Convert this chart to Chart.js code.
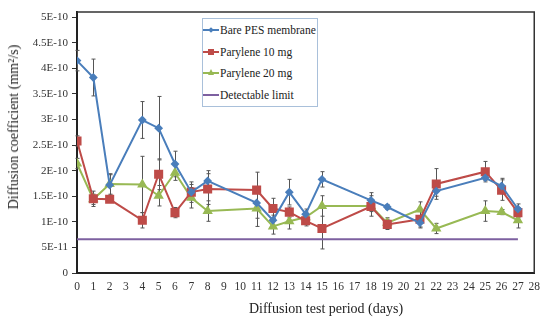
<!DOCTYPE html>
<html>
<head>
<meta charset="utf-8">
<script src="https://cdn.jsdelivr.net/npm/chart.js@4.4.1/dist/chart.umd.min.js"></script>
<style>
  html, body { margin: 0; padding: 0; background: #fff; }
  #wrap { position: relative; width: 547px; height: 318px; font-family: "Liberation Serif", "Times New Roman", serif; color: #222; }
  #legend {
    position: absolute; left: 202px; top: 18px; width: 114px; height: 87px;
    border: 1px solid #a9c0da; background: #fff; font-size: 11.5px;
  }
  .row { position: absolute; left: 0; height: 16px; display: flex; align-items: center; white-space: nowrap; }
  .sw { position: relative; width: 16px; height: 16px; margin-right: 1px; }
  .sw .ln { position: absolute; left: 0; top: 7px; width: 16px; height: 2px; }
  .sw .mk { position: absolute; }
  .title { position: absolute; font-size: 14px; white-space: nowrap; line-height: 16px; }
  #xTitle { left: 326px; top: 301px; transform: translateX(-50%); }
  #yTitle { left: 14px; top: 127px; transform: translate(-50%, -50%) rotate(-90deg); }
</style>
</head>
<body>
<div id="wrap">
  <canvas id="chart" width="547" height="318"></canvas>
  <div id="legend"></div>
  <div class="title" id="xTitle"></div>
  <div class="title" id="yTitle"></div>
</div>
<script>
// valores em unidades de 1E-10 mm2/s
const days = [0, 1, 2, 4, 5, 6, 7, 8, 11, 12, 13, 14, 15, 18, 19, 21, 22, 25, 26, 27];

const barePES    = [4.15, 3.82, 1.72, 2.99, 2.83, 2.13, 1.58, 1.80, 1.37, 1.03, 1.58, 1.15, 1.83, 1.42, 1.29, 0.98, 1.60, 1.86, 1.70, 1.25];
const barePESErr = [0.20, 0.36, 0.20, 0.36, 0.62, 0.25, 0.15, 0.20, 0.30, 0.10, 0.25, 0.10, 0.15, 0.15, 0.05, 0.10, 0.10, 0.05, 0.15, 0.10];

const pary10    = [2.58, 1.45, 1.44, 1.03, 1.93, 1.18, 1.58, 1.64, 1.62, 1.26, 1.19, 1.02, 0.87, 1.30, 0.95, 1.05, 1.74, 1.98, 1.62, 1.18];
const pary10Err = [0.10, 0.15, 0.05, 0.15, 0.30, 0.10, 0.20, 0.30, 0.35, 0.20, 0.10, 0.10, 0.40, 0.10, 0.10, 0.15, 0.30, 0.20, 0.20, 0.10];

const pary20    = [2.14, 1.44, 1.74, 1.73, 1.51, 1.96, 1.47, 1.21, 1.26, 0.91, 1.01, 1.09, 1.31, 1.31, 0.98, 1.24, 0.87, 1.21, 1.19, 1.03];
const pary20Err = [0.10, 0.10, 0.20, 0.55, 0.20, 0.15, 0.20, 0.20, 0.35, 0.15, 0.15, 0.10, 0.20, 0.20, 0.10, 0.15, 0.10, 0.20, 0.05, 0.15];

const limitDays = [0, 27];
const limitValue = 0.66;

const yTickLabels = ['0', '5E-11', '1E-10', '1.5E-10', '2E-10', '2.5E-10', '3E-10', '3.5E-10', '4E-10', '4.5E-10', '5E-10'];
const seriesNames = ['Bare PES membrane', 'Parylene 10 mg', 'Parylene 20 mg', 'Detectable limit'];
const xTitle = 'Diffusion test period (days)';
const yTitle = 'Diffusion coefficient (mm\u00B2/s)';

const FONT = '"Liberation Serif", "Times New Roman", serif';

function pts(xs, ys) {
  return xs.map((d, i) => ({ x: d, y: ys[i] }));
}

// barras de erro desenhadas com as escalas do grafico
const errorBars = {
  id: 'errorBars',
  beforeDatasetsDraw(chart) {
    const { ctx, scales: { x, y } } = chart;
    ctx.save();
    ctx.strokeStyle = '#555';
    ctx.lineWidth = 1;
    chart.data.datasets.forEach(ds => {
      if (!ds.errors) return;
      ds.data.forEach((p, i) => {
        const e = ds.errors[i];
        if (!e) return;
        const px = Math.round(x.getPixelForValue(p.x)) + 0.5;
        const top = y.getPixelForValue(p.y + e);
        const bot = y.getPixelForValue(p.y - e);
        ctx.beginPath();
        ctx.moveTo(px, top); ctx.lineTo(px, bot);
        ctx.moveTo(px - 2, top); ctx.lineTo(px + 2, top);
        ctx.moveTo(px - 2, bot); ctx.lineTo(px + 2, bot);
        ctx.stroke();
      });
    });
    ctx.restore();
  }
};

// moldura superior e direita
const frame = {
  id: 'frame',
  afterDraw(chart) {
    const { ctx, chartArea: a } = chart;
    ctx.save();
    ctx.strokeStyle = '#333';
    ctx.lineWidth = 1.5;
    ctx.beginPath();
    ctx.moveTo(a.left, a.top);
    ctx.lineTo(a.right, a.top);
    ctx.lineTo(a.right, a.bottom);
    ctx.stroke();
    ctx.restore();
  }
};

const chart = new Chart(document.getElementById('chart'), {
  type: 'line',
  data: {
    datasets: [
      {
        label: seriesNames[0], data: pts(days, barePES), errors: barePESErr,
        borderColor: '#4A7EBB', backgroundColor: '#4A7EBB', borderWidth: 2,
        pointStyle: 'rectRot', pointRadius: 3, tension: 0
      },
      {
        label: seriesNames[1], data: pts(days, pary10), errors: pary10Err,
        borderColor: '#BE4B48', backgroundColor: '#BE4B48', borderWidth: 2,
        pointStyle: 'rect', pointRadius: 5, tension: 0
      },
      {
        label: seriesNames[2], data: pts(days, pary20), errors: pary20Err,
        borderColor: '#98B954', backgroundColor: '#98B954', borderWidth: 2,
        pointStyle: 'triangle', pointRadius: 4, tension: 0
      },
      {
        label: seriesNames[3], data: pts(limitDays, limitDays.map(() => limitValue)),
        borderColor: '#7D60A0', backgroundColor: '#7D60A0', borderWidth: 2,
        pointRadius: 0, tension: 0
      }
    ]
  },
  options: {
    responsive: false,
    devicePixelRatio: 1,
    animation: false,
    layout: { padding: { left: 0, top: 12, right: 3, bottom: 0 } },
    plugins: { legend: { display: false }, tooltip: { enabled: false } },
    scales: {
      x: {
        type: 'linear', min: 0, max: 28,
        afterFit: s => { s.height = 45; },
        border: { color: '#222', width: 2 },
        grid: { display: false, drawTicks: false },
        ticks: { stepSize: 1, padding: 7, color: '#333', font: { family: FONT, size: 11.5 }, maxRotation: 0, autoSkip: false }
      },
      y: {
        min: 0, max: 5.1,
        afterFit: s => { s.width = 77; },
        afterBuildTicks: s => {
          s.ticks = yTickLabels.map((_, i) => ({ value: i * 0.5 }));
        },
        border: { color: '#222', width: 2 },
        grid: { drawOnChartArea: false, drawTicks: true, tickLength: 5, color: '#333' },
        ticks: {
          padding: 4, color: '#333', font: { family: FONT, size: 11 },
          callback: (v, i) => yTickLabels[i]
        }
      }
    }
  },
  plugins: [errorBars, frame]
});

document.getElementById('xTitle').textContent = xTitle;
document.getElementById('yTitle').textContent = yTitle;

// legenda em HTML dentro da area do grafico
const legend = document.getElementById('legend');
const rowTops = [3, 25, 46, 68];
chart.data.datasets.forEach((ds, i) => {
  const row = document.createElement('div');
  row.className = 'row';
  row.style.top = rowTops[i] + 'px';
  const sw = document.createElement('div');
  sw.className = 'sw';
  const ln = document.createElement('div');
  ln.className = 'ln';
  ln.style.background = ds.borderColor;
  sw.appendChild(ln);
  const mk = document.createElement('div');
  mk.className = 'mk';
  if (ds.pointStyle === 'rectRot') {
    Object.assign(mk.style, { left: '6px', top: '6px', width: '4px', height: '4px', background: ds.borderColor, transform: 'rotate(45deg)' });
  } else if (ds.pointStyle === 'rect') {
    Object.assign(mk.style, { left: '5px', top: '5px', width: '6px', height: '6px', background: ds.borderColor });
  } else if (ds.pointStyle === 'triangle') {
    Object.assign(mk.style, { left: '5px', top: '4px', width: '0', height: '0', borderLeft: '3px solid transparent', borderRight: '3px solid transparent', borderBottom: '6px solid ' + ds.borderColor });
  }
  if (ds.pointRadius) sw.appendChild(mk);
  row.appendChild(sw);
  const txt = document.createElement('span');
  txt.textContent = ds.label;
  row.appendChild(txt);
  legend.appendChild(row);
});
</script>
</body>
</html>
